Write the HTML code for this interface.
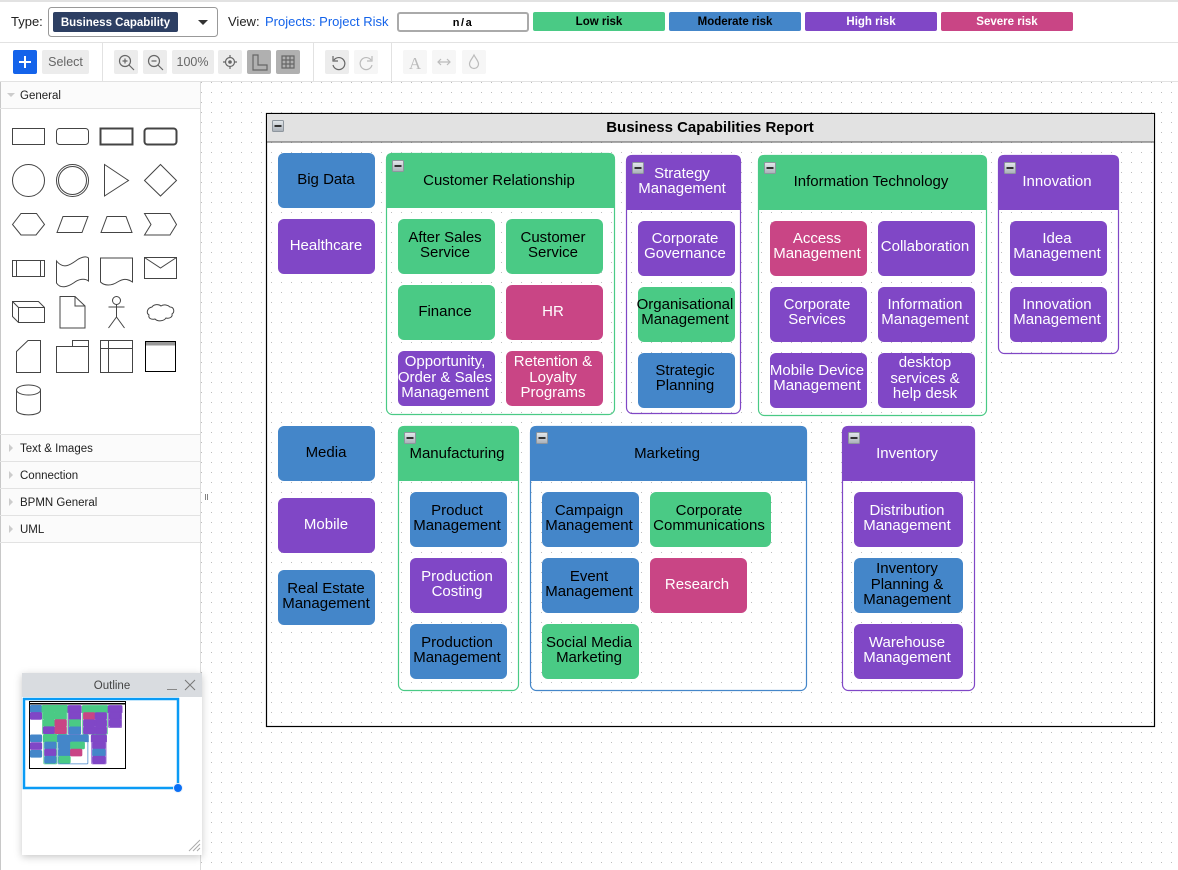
<!DOCTYPE html>
<html><head><meta charset="utf-8"><title>Business Capabilities Report</title>
<style>
html,body{margin:0;padding:0;background:#fff;width:1178px;height:870px;overflow:hidden}
svg{display:block;font-family:"Liberation Sans",sans-serif}
text{text-anchor:middle;font-size:15px;fill:#000}
.w{fill:#fff}
.l{text-anchor:start;font-size:12px;fill:#222}
.g{fill:#4aca85;stroke:#4aca85}.b{fill:#4486c9;stroke:#4486c9}.p{fill:#8047c6;stroke:#8047c6}.r{fill:#c94585;stroke:#c94585}
.cg,.cb,.cp{fill:none;stroke-width:var(--c,1.2)}.cg{stroke:#4aca85}.cb{stroke:#4486c9}.cp{stroke:#8047c6}
.s{fill:none;stroke:#444;stroke-width:1}
.t{fill:none;stroke:#666;stroke-width:1.2}
.tl{fill:none;stroke:#bbb;stroke-width:1.2}
</style></head><body>
<svg width="1178" height="870" viewBox="0 0 1178 870" xmlns="http://www.w3.org/2000/svg">
<defs>
<pattern id="dots" x="1" y="2" width="10" height="10" patternUnits="userSpaceOnUse"><rect width="1" height="1" fill="#bdbdbd"/></pattern>
<linearGradient id="ig" x1="0" y1="0" x2="0" y2="1"><stop offset="0" stop-color="#e4e8ec"/><stop offset="1" stop-color="#a9b0b8"/></linearGradient>
<g id="ic"><rect x=".5" y=".5" width="11" height="11" rx="1" fill="url(#ig)" stroke="#8e969e"/><rect x="2.5" y="5" width="7" height="2" fill="#333"/></g>
<filter id="sh" x="-20%" y="-20%" width="140%" height="140%"><feDropShadow dx="0" dy="2" stdDeviation="4" flood-color="#000" flood-opacity=".22"/></filter>
<g id="shapes">
<rect class="b" x="278" y="153" width="97" height="55" rx="6"/>
<rect class="p" x="278" y="219" width="97" height="55" rx="6"/>
<rect class="b" x="278" y="426" width="97" height="55" rx="6"/>
<rect class="p" x="278" y="498" width="97" height="55" rx="6"/>
<rect class="b" x="278" y="570" width="97" height="55" rx="6"/>
<rect class="cg" x="386.5" y="153.5" width="228" height="261" rx="6"/>
<path class="g" d="M386 208V159Q386 153 392 153H609Q615 153 615 159V208Z"/>
<rect class="cp" x="626.5" y="155.5" width="114" height="258" rx="6"/>
<path class="p" d="M626 210V161Q626 155 632 155H735Q741 155 741 161V210Z"/>
<rect class="cg" x="758.5" y="155.5" width="228" height="260" rx="6"/>
<path class="g" d="M758 210V161Q758 155 764 155H981Q987 155 987 161V210Z"/>
<rect class="cp" x="998.5" y="155.5" width="120" height="198" rx="6"/>
<path class="p" d="M998 210V161Q998 155 1004 155H1113Q1119 155 1119 161V210Z"/>
<rect class="cg" x="398.5" y="426.5" width="120" height="264" rx="6"/>
<path class="g" d="M398 481V432Q398 426 404 426H513Q519 426 519 432V481Z"/>
<rect class="cb" x="530.5" y="426.5" width="276" height="264" rx="6"/>
<path class="b" d="M530 481V432Q530 426 536 426H801Q807 426 807 432V481Z"/>
<rect class="cp" x="842.5" y="426.5" width="132" height="264" rx="6"/>
<path class="p" d="M842 481V432Q842 426 848 426H969Q975 426 975 432V481Z"/>
<rect class="g" x="398" y="219" width="97" height="55" rx="6"/>
<rect class="g" x="506" y="219" width="97" height="55" rx="6"/>
<rect class="g" x="398" y="285" width="97" height="55" rx="6"/>
<rect class="r" x="506" y="285" width="97" height="55" rx="6"/>
<rect class="p" x="398" y="351" width="97" height="55" rx="6"/>
<rect class="r" x="506" y="351" width="97" height="55" rx="6"/>
<rect class="p" x="638" y="221" width="97" height="55" rx="6"/>
<rect class="g" x="638" y="287" width="97" height="55" rx="6"/>
<rect class="b" x="638" y="353" width="97" height="55" rx="6"/>
<rect class="r" x="770" y="221" width="97" height="55" rx="6"/>
<rect class="p" x="878" y="221" width="97" height="55" rx="6"/>
<rect class="p" x="770" y="287" width="97" height="55" rx="6"/>
<rect class="p" x="878" y="287" width="97" height="55" rx="6"/>
<rect class="p" x="770" y="353" width="97" height="55" rx="6"/>
<rect class="p" x="878" y="353" width="97" height="55" rx="6"/>
<rect class="p" x="1010" y="221" width="97" height="55" rx="6"/>
<rect class="p" x="1010" y="287" width="97" height="55" rx="6"/>
<rect class="b" x="410" y="492" width="97" height="55" rx="6"/>
<rect class="p" x="410" y="558" width="97" height="55" rx="6"/>
<rect class="b" x="410" y="624" width="97" height="55" rx="6"/>
<rect class="b" x="542" y="492" width="97" height="55" rx="6"/>
<rect class="g" x="650" y="492" width="121" height="55" rx="6"/>
<rect class="b" x="542" y="558" width="97" height="55" rx="6"/>
<rect class="r" x="650" y="558" width="97" height="55" rx="6"/>
<rect class="g" x="542" y="624" width="97" height="55" rx="6"/>
<rect class="p" x="854" y="492" width="109" height="55" rx="6"/>
<rect class="b" x="854" y="558" width="109" height="55" rx="6"/>
<rect class="p" x="854" y="624" width="109" height="55" rx="6"/>
</g>
</defs>

<rect width="1178" height="870" fill="#fff"/>
<rect x="201" y="82" width="977" height="788" fill="url(#dots)"/>

<!-- top bar -->
<rect width="1178" height="2" fill="#e2e2e2"/>
<rect y="42" width="1178" height="1" fill="#e2e2e2"/>
<rect y="81" width="1178" height="1" fill="#e2e2e2"/>
<text class="l" x="11" y="26" style="font-size:13px">Type:</text>
<rect x="48.5" y="7.5" width="169" height="29" rx="3" fill="#fff" stroke="#999"/>
<rect x="53" y="12" width="125" height="20" rx="2" fill="#2d3f63"/>
<text x="115.500" y="26" class="w" style="font-size:11.5px;font-weight:bold">Business Capability</text>
<path d="M198 20h10l-5 5z" fill="#333"/>
<text class="l" x="228" y="26" style="font-size:13px">View:</text>
<text class="l" x="265" y="26" style="font-size:13px;fill:#1463ea">Projects: Project Risk</text>
<rect x="398" y="13" width="130" height="18" rx="2" fill="#fff" stroke="#aaa" stroke-width="2"/>
<text x="463" y="26" style="font-size:11px;font-weight:bold;letter-spacing:1.5px">n/a</text>
<rect x="533" y="12" width="132" height="19" rx="2" fill="#4aca85"/>
<text x="599" y="25" style="font-size:11.500px;font-weight:bold">Low risk</text>
<rect x="669" y="12" width="132" height="19" rx="2" fill="#4486c9"/>
<text x="735" y="25" style="font-size:11.500px;font-weight:bold">Moderate risk</text>
<rect x="805" y="12" width="132" height="19" rx="2" fill="#8047c6"/>
<text x="871" y="25" class="w" style="font-size:11.500px;font-weight:bold">High risk</text>
<rect x="941" y="12" width="132" height="19" rx="2" fill="#c94585"/>
<text x="1007" y="25" class="w" style="font-size:11.500px;font-weight:bold">Severe risk</text>

<!-- toolbar -->
<rect x="102" y="43" width="1" height="38" fill="#e2e2e2"/>
<rect x="313" y="43" width="1" height="38" fill="#e2e2e2"/>
<rect x="391" y="43" width="1" height="38" fill="#e2e2e2"/>
<rect x="13" y="50" width="24" height="24" rx="2" fill="#1463ea"/>
<path d="M25 56v12M19 62h12" stroke="#fff" stroke-width="2"/>
<rect x="42" y="50" width="47" height="24" rx="2" fill="#ececec"/>
<text x="65.500" y="66" style="font-size:12.500px;fill:#666">Select</text>
<rect x="114" y="50" width="24" height="24" rx="2" fill="#ececec"/>
<circle cx="125" cy="61" r="5.500" class="t"/><path d="M129 65l5 5M122.500 61h5M125 58.500v5" class="t"/>
<rect x="143" y="50" width="24" height="24" rx="2" fill="#ececec"/>
<circle cx="154" cy="61" r="5.500" class="t"/><path d="M158 65l5 5M151.500 61h5" class="t"/>
<rect x="172" y="50" width="42" height="24" rx="2" fill="#ececec"/>
<text x="192.500" y="66" style="font-size:12.500px;fill:#666">100%</text>
<rect x="218" y="50" width="24" height="24" rx="2" fill="#ececec"/>
<circle cx="230" cy="62" r="4.500" class="t"/><circle cx="230" cy="62" r="1.800" fill="#666"/><path d="M230 55v3M230 66v3M223 62h3M234 62h3" class="t"/>
<rect x="247" y="50" width="24" height="24" rx="2" fill="#b0b0b0"/>
<path d="M253 55h5v10h9v5h-14z" class="t"/>
<rect x="276" y="50" width="24" height="24" rx="2" fill="#b0b0b0"/>
<path d="M282 56h12v12h-12zM282 60h12M282 64h12M286 56v12M290 56v12" class="t"/>
<rect x="325" y="50" width="24" height="24" rx="2" fill="#ececec"/>
<path d="M333 56v5h5M334 60a6 6 0 1 1-1 5" class="t"/>
<rect x="354" y="50" width="24" height="24" rx="2" fill="#f6f6f6"/>
<path d="M372 56v5h-5M371 60a6 6 0 1 0 1 5" class="tl"/>
<rect x="403" y="50" width="24" height="24" rx="2" fill="#f6f6f6"/>
<text x="415" y="69" style="font-size:17px;font-family:'Liberation Serif',serif;fill:#bbb">A</text>
<rect x="432" y="50" width="24" height="24" rx="2" fill="#f6f6f6"/>
<path d="M438 62h12M441 59l-3 3 3 3M447 59l3 3-3 3" class="tl"/>
<rect x="462" y="50" width="24" height="24" rx="2" fill="#f6f6f6"/>
<path d="M474 55c-2 4-4.500 6-4.500 9a4.500 4.500 0 0 0 9 0c0-3-2.500-5-4.500-9z" class="tl"/>

<!-- sidebar -->
<rect y="82" width="200" height="788" fill="#fff"/>
<rect y="82" width="200" height="460" fill="#fbfbfb"/>
<rect y="109" width="200" height="325" fill="#fff"/>
<rect y="82" width="1" height="788" fill="#c8c8c8"/>
<rect x="200" y="82" width="1" height="788" fill="#dcdcdc"/>
<rect y="108" width="200" height="1" fill="#e2e2e2"/>
<rect y="434" width="200" height="1" fill="#e2e2e2"/>
<rect y="461" width="200" height="1" fill="#e2e2e2"/>
<rect y="488" width="200" height="1" fill="#e2e2e2"/>
<rect y="515" width="200" height="1" fill="#e2e2e2"/>
<rect y="542" width="200" height="1" fill="#e2e2e2"/>
<path d="M7 93h8l-4 4z" fill="#ccc"/>
<text class="l" x="20" y="99" style="font-size:11.500px">General</text>
<path d="M9 444v8l4-4z" fill="#ccc"/><text class="l" x="20" y="452" style="font-size:11.500px">Text &amp; Images</text>
<path d="M9 471v8l4-4z" fill="#ccc"/><text class="l" x="20" y="479" style="font-size:11.500px">Connection</text>
<path d="M9 498v8l4-4z" fill="#ccc"/><text class="l" x="20" y="506" style="font-size:11.500px">BPMN General</text>
<path d="M9 525v8l4-4z" fill="#ccc"/><text class="l" x="20" y="533" style="font-size:11.500px">UML</text>
<path d="M205.500 494v6M207.500 494v6" stroke="#666" stroke-width=".8"/>

<rect class="s" x="12.500" y="128.500" width="32" height="16"/>
<rect class="s" x="56.500" y="128.500" width="32" height="16" rx="3"/>
<rect class="s" style="stroke-width:2" x="100.500" y="128.500" width="32" height="16"/>
<rect class="s" style="stroke-width:2" x="144.500" y="128.500" width="32" height="16" rx="3"/>
<circle class="s" cx="28.500" cy="180.500" r="16"/>
<circle class="s" cx="72.500" cy="180.500" r="16"/><circle class="s" cx="72.500" cy="180.500" r="14"/>
<path class="s" d="M104.500 164.500L128.500 180.500L104.500 196Z"/>
<path class="s" d="M144.500 180.500L160.500 164.500L176.500 180.500L160.500 196Z"/>
<path class="s" d="M12.500 224.500L21 213.500H36.500L44.500 224.500L36 235H21Z"/>
<path class="s" d="M57 232.500L63 216.500H88L82 232.500Z"/>
<path class="s" d="M101 232.500L107 216.500H126L132 232.500Z"/>
<path class="s" d="M144.500 213.500H170L176.500 224.500L170 235H144.500L151 224.500Z"/>
<rect class="s" x="12.500" y="260.500" width="32" height="16"/><path class="s" d="M16.500 260.500v16M40.500 260.500v16"/>
<path class="s" d="M56.500 261c8 10 16 2 22-2 4-2 8-3 10-1v23c-4-3-10-2-15 2-6 4-13 6-17 0z"/>
<path class="s" d="M100.500 258h32v24c-6-4-10-3-15 0-6 4-13 4-17 0z"/>
<rect class="s" x="144.500" y="257.500" width="32" height="21"/><path class="s" d="M144.500 257.500L160.500 268L176.500 257.500"/>
<path class="s" d="M12.500 301.500H38.500L44.500 307.500V322.500H18.500L12.500 316.500ZM12.500 301.500L18.500 307.500V322.500M18.500 307.500H44.500"/>
<path class="s" d="M60 296.500H75L85 306V328H60ZM75 296.500V306H85"/>
<circle class="s" cx="116.500" cy="300.500" r="4"/><path class="s" d="M116.500 304.500V317M108.500 307H124.500M116.500 317L108.500 328M116.500 317L124.500 328"/>
<path class="s" d="M152 307c2-3 7-3 9-1 3-2 7-1 9 1 4 0 5 5 2 7 1 3-3 5-6 4-2 3-8 4-11 1-4 1-7-1-6-4-3-2-2-7 3-8z"/>
<path class="s" d="M16.500 351.500L28 340.500H40.500V372.500H16.500Z"/>
<path class="s" d="M56.500 346.500H72.500V340.500H88.500V372.500H56.500ZM72.500 346.500H88.500"/>
<rect class="s" x="100.500" y="340.500" width="32" height="32"/><path class="s" d="M108.500 340.500V372.500M100.500 348.500H132.500"/>
<rect x="145.500" y="341.500" width="30" height="30" fill="#fff" stroke="#000"/><rect x="146" y="342" width="29" height="3.500" fill="#999"/>
<path class="s" d="M16.500 390v20c0 6.500 24 6.500 24 0v-20"/><ellipse class="s" cx="28.500" cy="390" rx="12" ry="5"/>

<!-- diagram -->
<rect x="266.500" y="113.500" width="888" height="613" fill="none" stroke="#000" stroke-width="1.200"/>
<rect x="267" y="114" width="887" height="28" fill="#e2e2e2"/>
<rect x="267" y="141.500" width="887" height="1" fill="#555"/>
<text x="710" y="132" style="font-weight:bold;font-size:15px">Business Capabilities Report</text>
<g stroke-width="0"><use href="#shapes"/></g>
<use href="#ic" x="272" y="120"/><use href="#ic" x="392" y="160"/><use href="#ic" x="632" y="162"/><use href="#ic" x="764" y="162"/><use href="#ic" x="1004" y="162"/><use href="#ic" x="404" y="432"/><use href="#ic" x="536" y="432"/><use href="#ic" x="848" y="432"/>

<text x="326" y="184">Big Data</text>
<text x="326" y="250" class="w">Healthcare</text>
<text x="326" y="457">Media</text>
<text x="326" y="529" class="w">Mobile</text>
<text x="326" y="593">Real Estate</text><text x="326" y="608">Management</text>
<text x="499" y="185">Customer Relationship</text>
<text x="445" y="242">After Sales</text><text x="445" y="257">Service</text>
<text x="553" y="242">Customer</text><text x="553" y="257">Service</text>
<text x="445" y="316">Finance</text>
<text x="553" y="316" class="w">HR</text>
<text x="445" y="366" class="w">Opportunity,</text><text x="445" y="382" class="w">Order &amp; Sales</text><text x="445" y="397" class="w">Management</text>
<text x="553" y="366" class="w">Retention &amp;</text><text x="553" y="382" class="w">Loyalty</text><text x="553" y="397" class="w">Programs</text>
<text x="682" y="178" class="w">Strategy</text><text x="682" y="193" class="w">Management</text>
<text x="685" y="243" class="w">Corporate</text><text x="685" y="258" class="w">Governance</text>
<text x="685" y="309">Organisational</text><text x="685" y="324">Management</text>
<text x="685" y="375">Strategic</text><text x="685" y="390">Planning</text>
<text x="871" y="186">Information Technology</text>
<text x="817" y="243" class="w">Access</text><text x="817" y="258" class="w">Management</text>
<text x="925" y="251" class="w">Collaboration</text>
<text x="817" y="309" class="w">Corporate</text><text x="817" y="324" class="w">Services</text>
<text x="925" y="309" class="w">Information</text><text x="925" y="324" class="w">Management</text>
<text x="817" y="375" class="w">Mobile Device</text><text x="817" y="390" class="w">Management</text>
<text x="925" y="367" class="w">desktop</text><text x="925" y="383" class="w">services &amp;</text><text x="925" y="398" class="w">help desk</text>
<text x="1057" y="186" class="w">Innovation</text>
<text x="1057" y="243" class="w">Idea</text><text x="1057" y="258" class="w">Management</text>
<text x="1057" y="309" class="w">Innovation</text><text x="1057" y="324" class="w">Management</text>
<text x="457" y="458">Manufacturing</text>
<text x="457" y="515">Product</text><text x="457" y="530">Management</text>
<text x="457" y="581" class="w">Production</text><text x="457" y="596" class="w">Costing</text>
<text x="457" y="647">Production</text><text x="457" y="662">Management</text>
<text x="667" y="458">Marketing</text>
<text x="589" y="515">Campaign</text><text x="589" y="530">Management</text>
<text x="709" y="515">Corporate</text><text x="709" y="530">Communications</text>
<text x="589" y="581">Event</text><text x="589" y="596">Management</text>
<text x="697" y="589" class="w">Research</text>
<text x="589" y="647">Social Media</text><text x="589" y="662">Marketing</text>
<text x="907" y="458" class="w">Inventory</text>
<text x="907" y="515" class="w">Distribution</text><text x="907" y="530" class="w">Management</text>
<text x="907" y="573">Inventory</text><text x="907" y="589">Planning &amp;</text><text x="907" y="604">Management</text>
<text x="907" y="647" class="w">Warehouse</text><text x="907" y="662" class="w">Management</text>

<!-- outline window -->
<rect x="22" y="673" width="180" height="182" fill="#fff" filter="url(#sh)"/>
<rect x="22" y="673" width="180" height="24" fill="#d9dce0"/>
<text x="112" y="689" style="font-size:11.500px;fill:#444">Outline</text>
<path d="M167 689.500h10" stroke="#888" stroke-width="1"/>
<path d="M185 680l10 10M195 680l-10 10" stroke="#777" stroke-width="1"/>
<rect x="29.500" y="701.500" width="96" height="67" fill="#fff" stroke="#000" stroke-width="1"/>
<rect x="30" y="703" width="95" height="1.500" fill="#000"/>
<g transform="translate(29.500 701.500) scale(.108) translate(-266 -113)" stroke-width="16" style="--c:7"><use href="#shapes"/></g>
<rect x="24" y="699" width="154" height="89" fill="none" stroke="#0a9bf5" stroke-width="2.500"/>
<circle cx="178" cy="788" r="4.500" fill="#0a6ff5" stroke="#e8f0fa" stroke-width="1"/>
<path d="M189 851l11-11M193 851l7-7M197 851l3-3" stroke="#aaa" stroke-width="1"/>
</svg>
</body></html>
